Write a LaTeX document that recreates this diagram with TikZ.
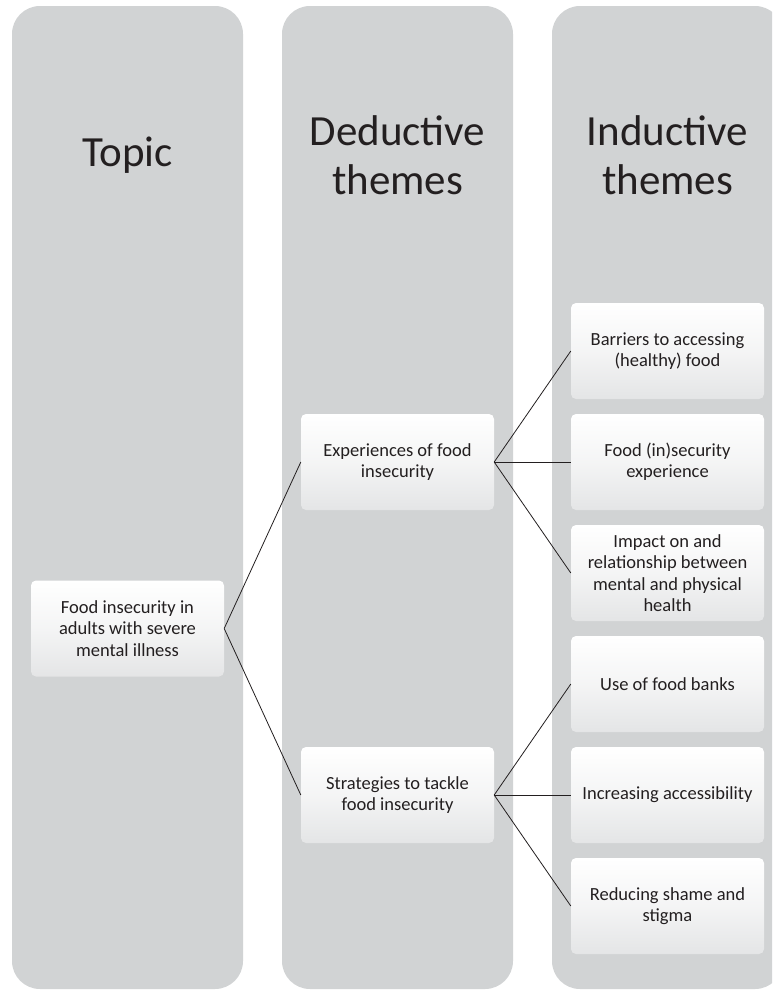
\documentclass[tikz,border=0pt]{standalone}
\usepackage{fontspec}
\setmainfont{Carlito}
\definecolor{colbg}{RGB}{209,211,212}
\definecolor{boxlow}{RGB}{228,229,230}
\definecolor{ink}{RGB}{35,31,32}
\begin{document}
\begin{tikzpicture}[x=1pt,y=-1pt,
  column/.style={fill=colbg,rounded corners=28pt},
  title/.style={text=ink,align=center,font=\fontsize{43}{49}\selectfont},
  themebox/.style={rounded corners=5pt,minimum width=193pt,minimum height=96pt,
    inner sep=2pt,align=center,text=ink,font=\fontsize{18.5}{21.3}\selectfont,
    top color=white,bottom color=boxlow,middle color=white!60!boxlow,shading angle=0},
  link/.style={draw=ink,line width=0.8pt}]
\useasboundingbox (0,0) rectangle (772,991);
\fill[white] (0,0) rectangle (772,991);
\clip (0,0) rectangle (772,991);

% three column panels
\fill[column] (12,6) rectangle (243,989);
\fill[column] (282,6) rectangle (513,989);
\fill[column] (552,6) rectangle (783,989);

% column headings
\node[title] (htopic) at (127.5,155) {Topic};
\node[title] (hded) at (397.5,155) {Deductive\\themes};
\node[title] (hind) at (667.5,155) {Inductive\\themes};

% topic
\node[themebox] (topic) at (127.5,628.5) {Food insecurity in\\adults with severe\\mental illness};

% deductive themes
\node[themebox] (exp) at (397.5,462) {Experiences of food\\insecurity};
\node[themebox] (strat) at (397.5,795) {Strategies to tackle\\food insecurity};

% inductive themes
\node[themebox] (barr) at (667.5,351) {Barriers to accessing\\(healthy) food};
\node[themebox] (insec) at (667.5,462) {Food (in)security\\experience};
\node[themebox] (impact) at (667.5,573) {Impact on and\\relationship between\\mental and physical\\health};
\node[themebox] (banks) at (667.5,684) {Use of food banks};
\node[themebox] (access) at (667.5,795) {Increasing accessibility};
\node[themebox] (shame) at (667.5,906) {Reducing shame and\\stigma};

% connectors
\draw[link] (topic.east) -- (exp.west);
\draw[link] (topic.east) -- (strat.west);
\draw[link] (exp.east) -- (barr.west);
\draw[link] (exp.east) -- (insec.west);
\draw[link] (exp.east) -- (impact.west);
\draw[link] (strat.east) -- (banks.west);
\draw[link] (strat.east) -- (access.west);
\draw[link] (strat.east) -- (shame.west);
\end{tikzpicture}
\end{document}
